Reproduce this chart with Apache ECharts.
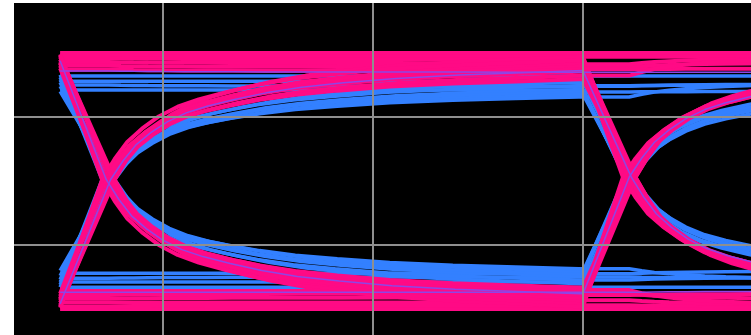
<!DOCTYPE html>
<html>
<head>
<meta charset="utf-8">
<script src="https://cdn.jsdelivr.net/npm/echarts@6/dist/echarts.min.js"></script>
<style>
html, body { margin: 0; padding: 0; background: #fff; }
#frame { position: absolute; left: 14px; top: 3px; width: 737px; height: 332px; overflow: hidden; background: #000; }
#chart { position: absolute; left: -61px; top: -14px; width: 840px; height: 384px; }
</style>
</head>
<body>
<div id="frame"><div id="chart"></div></div>
<script>
const settleOffsets = [0, 6, 12, 19, 27, 36, 46, 59, 74, 91, 111, 136, 166, 196, 226];
const settleShape = [0, 0.17, 0.31, 0.42, 0.52, 0.6, 0.66, 0.72, 0.78, 0.83, 0.87, 0.91, 0.94, 0.96, 0.98];

// window start, first crossing, end of eye, second crossing
const bitTimes = [51, 74, 300, 322];
const crossLevels = [1, 3];

// each trace: [level before, level in eye, level after, left jitter, right jitter]
const pinkTraces = [
	[100, 100, 100, 0, 0],
	[98, 97, 97, 0, 0],
	[96, 95, -96, 0, 2],
	[93, 92, -91, 0, -2],
	[90, 89, 93, 0, 0],
	[87, 86, -99, 0, 3],
	[-97, 99, -94, 3, 0],
	[-93, 96, -98, -3, 3],
	[-99, 93, 97, 1, -1],
	[-90, 91, -89, -1, -3],
	[-95, 89, 88, 2, 1],
	[-88, 87, -95, -2, 0],
	[-98, 84, 99, 2, -2],
	[-92, 81, -92, -2, 2],
	[-100, -100, -100, 0, 0],
	[-98, -97, -98, 0, 0],
	[-95, -95, 95, 0, 2],
	[-92, -91, 92, 0, -2],
	[-89, -88, -93, 0, 0],
	[-86, -86, 99, 0, 3],
	[97, -100, 94, 3, 0],
	[93, -97, 98, -3, 3],
	[99, -95, -97, 1, -1],
	[90, -93, 89, -1, -3],
	[95, -91, -88, 2, 1],
	[88, -89, 95, -2, 0],
	[98, -87, -99, 2, -2],
	[92, -85, 92, -2, 2],
];

const blueTraces = [
	[82, 82, 82, 0, 0],
	[78, 78, -78, 0, 2],
	[75, 74, 76, 0, 0],
	[71, 71, -81, 0, -2],
	[-79, 79, -72, 3, 0],
	[-83, 76, 75, -3, 2],
	[-74, 73, -79, 1, -2],
	[-77, 71, 70, -1, 3],
	[-70, 69, -75, 2, -1],
	[-81, 67, 78, -2, 1],
	[-83, -83, -83, 0, 0],
	[-79, -79, 79, 0, 2],
	[-76, -75, -76, 0, 0],
	[-72, -72, 82, 0, -2],
	[79, -82, 72, 3, 0],
	[83, -79, -75, -3, 2],
	[74, -76, 79, 1, -2],
	[77, -74, -70, -1, 3],
	[70, -72, 75, 2, -1],
	[81, -70, -78, -2, 1],
];

// thin violet traces where the two colours overlap
const violetTraces = [
	[86, 85, 85, 0, 0],
	[-96, 88, -90, 1, 1],
	[-87, -87, -86, 0, 0],
	[94, -90, 91, -1, 0],
];

function buildTrace([before, level, after, dl, dr]) {
	const [tStart, tCross1, tEnd, tCross2] = bitTimes;
	const pts = [[tStart, before]];
	const edge1 = Math.sign(before) !== Math.sign(level);
	const c1 = edge1 ? crossLevels[0] : before;
	const x1 = edge1 ? tCross1 + dl : tCross1;
	pts.push([x1, c1]);
	settleOffsets.forEach((off, i) => {
		if (off > 0 && x1 + off < tEnd) pts.push([x1 + off, c1 + (level - c1) * settleShape[i]]);
	});
	const v = c1 + (level - c1) * settleShape[settleShape.length - 1];
	pts.push([tEnd, v]);
	const edge2 = Math.sign(after) !== Math.sign(level);
	const c2 = edge2 ? crossLevels[1] : v;
	const x2 = edge2 ? tCross2 + dr : tCross2;
	pts.push([x2, c2]);
	settleOffsets.forEach((off, i) => {
		if (off > 0) pts.push([x2 + off, c2 + (after - c2) * settleShape[i]]);
	});
	return pts;
}

function traceSeries(trace, color, width) {
	return {
		type: "line",
		data: buildTrace(trace),
		showSymbol: false,
		silent: true,
		lineStyle: { color, width },
	};
}

const series = [
	...blueTraces.map((t) => traceSeries(t, "#3380ff", 3.5)),
	...pinkTraces.map((t) => traceSeries(t, "#ff0a85", 4)),
	...violetTraces.map((t) => traceSeries(t, "#8f45e6", 1.5)),
];

const hiddenAxis = {
	type: "value",
	z: 10,
	axisLine: { show: false },
	axisTick: { show: false },
	axisLabel: { show: false },
	splitLine: { lineStyle: { color: "#8f8f8f", width: 2 } },
};

const chart = echarts.init(document.getElementById("chart"));
chart.setOption({
	animation: false,
	backgroundColor: "#000",
	grid: { left: 0, right: 0, top: 0, bottom: 0 },
	xAxis: { ...hiddenAxis, min: 0, max: 400, interval: 100 },
	yAxis: { ...hiddenAxis, min: -150, max: 150, interval: 100 },
	series,
});
</script>
</body>
</html>
